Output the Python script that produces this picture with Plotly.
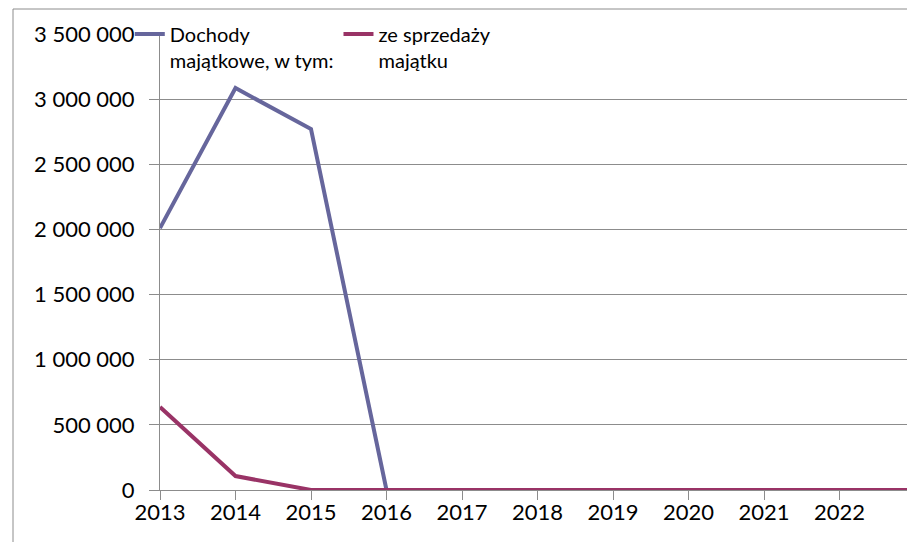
import plotly.graph_objs as go

# Data
years = [2013, 2014, 2015, 2016, 2017, 2018, 2019, 2020, 2021, 2022, 2023]
dochody_majatkowe = [2010000, 3085000, 2770000, 0, 0, 0, 0, 0, 0, 0, 0]
ze_sprzedazy = [637000, 107000, 0, 0, 0, 0, 0, 0, 0, 0, 0]
tick_years = [2013, 2014, 2015, 2016, 2017, 2018, 2019, 2020, 2021, 2022]
y_ticks = [0, 500000, 1000000, 1500000, 2000000, 2500000, 3000000, 3500000]

font_family = 'Lato, "Liberation Sans", sans-serif'
grid_color = '#8c8c8c'

data = [
    go.Scatter(x=years, y=dochody_majatkowe, mode='lines', name='Dochody<br>majątkowe, w tym:',
               line=dict(color='#66669c', width=4), cliponaxis=False),
    go.Scatter(x=years, y=ze_sprzedazy, mode='lines', name='ze sprzedaży<br>majątku',
               line=dict(color='#993366', width=4), cliponaxis=False),
]

# page has an 8px body margin, so the plot area is shifted accordingly
layout = go.Layout(
    width=915, height=542,
    margin=dict(l=152, r=8, t=26, b=60, autoexpand=False),
    paper_bgcolor='white', plot_bgcolor='white',
    separators=', ',
    font=dict(family=font_family, color='black'),
    xaxis=dict(range=[2013, 2023], tickvals=tick_years, ticktext=[str(y) for y in tick_years],
               showgrid=False, zeroline=False, showline=True, linecolor=grid_color, linewidth=1,
               ticks='outside', ticklen=3, tickcolor=grid_color, tickfont=dict(size=22),
               minor=dict(ticks='outside', ticklen=9, tickcolor=grid_color, tick0=2013, dtick=1,
                          showgrid=False)),
    yaxis=dict(range=[0, 3500000], tickvals=y_ticks, tickformat=',d',
               showgrid=True, gridcolor=grid_color, gridwidth=1, zeroline=False,
               showline=True, linecolor=grid_color, linewidth=1,
               ticks='outside', ticklen=10, tickcolor=grid_color, tickfont=dict(size=22),
               ticklabelstandoff=10),
    legend=dict(orientation='h', x=-0.04, y=1.043, xanchor='left', yanchor='top',
                bgcolor='rgba(0,0,0,0)', font=dict(size=20), valign='top',
                itemwidth=30, traceorder='normal'),
    showlegend=True,
    shapes=[dict(type='rect', xref='paper', yref='paper', x0=-0.1947, x1=1.2, y0=-0.3, y1=1.0548,
                 line=dict(color='#8c8c8c', width=1), layer='below')],
)

fig = go.Figure(data=data, layout=layout)
fig.write_html('out.html')
